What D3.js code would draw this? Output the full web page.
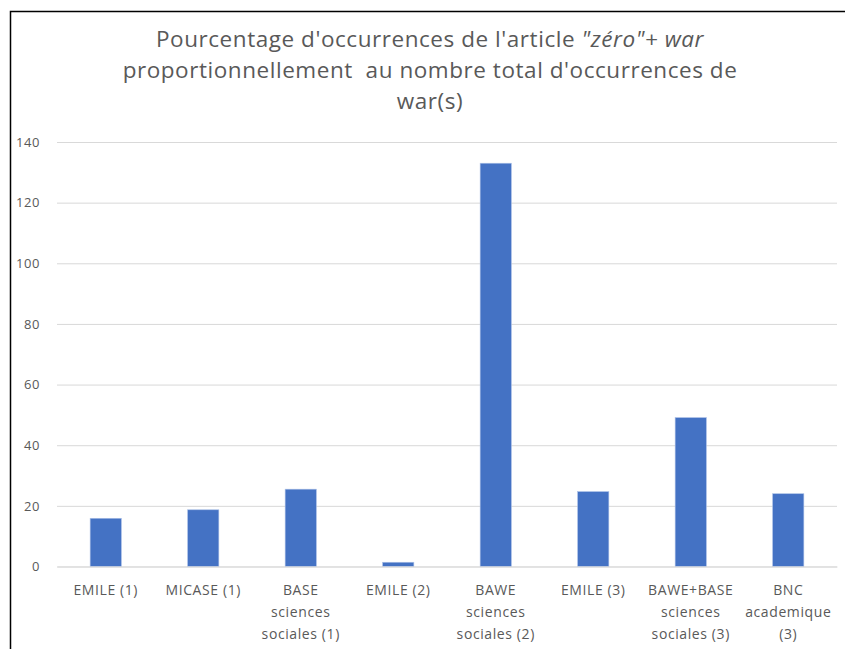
<!DOCTYPE html>
<html><head><meta charset="utf-8">
<script src="https://cdn.jsdelivr.net/npm/d3@7"></script>
<style>body{margin:0;background:#fff}svg{display:block}text{font-family:"Open Sans","Noto Sans",sans-serif;fill:#595959}</style>
</head><body><svg id="c" width="845" height="649"></svg>
<script>
const categories = [["EMILE (1)"],["MICASE (1)"],["BASE","sciences","sociales (1)"],["EMILE (2)"],["BAWE","sciences","sociales (2)"],["EMILE (3)"],["BAWE+BASE","sciences","sociales (3)"],["BNC","academique","(3)"]];
const values = [15.9, 18.7, 25.5, 1.4, 133.0, 24.7, 49.1, 24.0];
const yTicks = [0,20,40,60,80,100,120,140];
const titleLines = [
  [["Pourcentage d'occurrences de l'article ",false],["\"zéro\"+ war",true]],
  [["proportionnellement  au nombre total d'occurrences de",false]],
  [["war(s)",false]]
];

const svg = d3.select("#c");
svg.append("rect").attr("width",845).attr("height",649).attr("fill","#fff");
svg.append("path").attr("d","M10.5,649V11.5H845").attr("fill","none").attr("stroke","#000").attr("stroke-width",1.5);

const m = {l:57, r:837, t:142, b:566.5};
const x = d3.scaleBand().domain(d3.range(categories.length)).range([m.l,m.r]).paddingInner(0.68).paddingOuter(0.34);
const y = d3.scaleLinear().domain([0,140]).range([m.b,m.t]);

// gridlines
const yAxis = d3.axisLeft(y).tickValues(yTicks).tickSize(-(m.r-m.l)).tickPadding(17);
const gy = svg.append("g").attr("transform",`translate(${m.l},0)`).call(yAxis);
gy.select(".domain").remove();
gy.selectAll(".tick line").attr("stroke","#d9d9d9").attr("stroke-width",1);
gy.selectAll(".tick text").style("font-size","13px").style("letter-spacing","0.6px").attr("fill","#595959").style("font-family","\"Open Sans\",sans-serif");

// bars
svg.append("g").selectAll("rect").data(values).join("rect")
  .attr("x",(d,i)=>x(i)).attr("width",x.bandwidth())
  .attr("y",d=>y(d)).attr("height",d=>y(0)-y(d))
  .attr("fill","#4472C4").attr("stroke","#a9bfe6").attr("stroke-width",0.6);

// x labels
const xAxis = d3.axisBottom(x).tickSize(0).tickFormat(()=> "");
const gx = svg.append("g").attr("transform",`translate(0,${m.b})`).call(xAxis);
gx.select(".domain").attr("stroke","#d9d9d9");
gx.selectAll(".tick").each(function(i){
  const t = d3.select(this).append("text").attr("text-anchor","middle").style("font-size","14px").style("letter-spacing","0.6px");
  categories[i].forEach((s,k)=> t.append("tspan").attr("x",0).attr("y",28.5+k*22).text(s));
});

// title
const tt = svg.append("text").attr("text-anchor","middle").style("font-size","22.5px").style("letter-spacing","0.55px").style("white-space","pre");
titleLines.forEach((line,k)=>{
  line.forEach(([s,it],j)=>{
    const sp = tt.append("tspan").text(s).style("font-style",it?"italic":"normal");
    if(j===0) sp.attr("x",430).attr("y",47+k*31);
  });
});
</script></body></html>
